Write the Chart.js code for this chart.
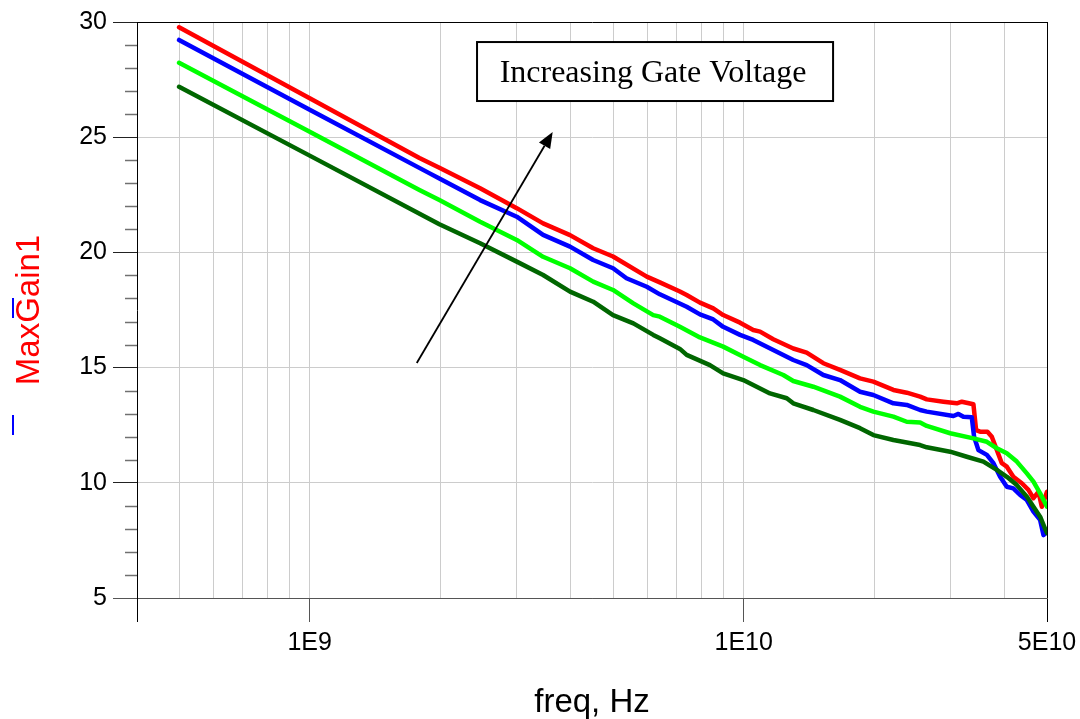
<!DOCTYPE html>
<html>
<head>
<meta charset="utf-8">
<script src="https://cdn.jsdelivr.net/npm/chart.js@4"></script>
<style>
html,body{margin:0;padding:0;background:#fff;}
#wrap{width:1080px;height:719px;position:relative;}
</style>
</head>
<body>
<div id="wrap"><canvas id="c" width="1080" height="719"></canvas></div>
<script>
// ---- data (frequency in Hz, MaxGain1 in dB) ----
const freqRed = [5e8,1e9,1.79e9,1.99e9,2.47e9,3.0e9,3.45e9,3.98e9,4.5e9,5.0e9,5.98e9,6.41e9,7.13e9,7.39e9,7.93e9,8.51e9,8.97e9,9.81e9,1.052e10,1.091e10,1.17e10,1.301e10,1.397e10,1.526e10,1.667e10,1.854e10,1.99e10,2.213e10,2.376e10,2.55e10,2.642e10,2.886e10,3.099e10,3.182e10,3.384e10,3.432e10,3.506e10,3.645e10,3.731e10,3.831e10,3.934e10,4.04e10,4.183e10,4.375e10,4.531e10,4.653e10,4.778e10,4.865e10,5e10];
const gainRed = [29.77,26.69,24.10,23.67,22.78,21.92,21.26,20.75,20.18,19.82,18.95,18.70,18.30,18.15,17.82,17.57,17.28,16.95,16.63,16.56,16.23,15.83,15.65,15.19,14.90,14.53,14.39,14.03,13.91,13.74,13.62,13.52,13.45,13.52,13.41,12.29,12.22,12.22,12.00,11.42,10.85,10.70,10.26,9.98,9.69,9.33,9.61,8.96,9.61];

const freqBlue = [5e8,1e9,1.89e9,1.99e9,2.47e9,3.0e9,3.45e9,3.98e9,4.5e9,5.0e9,5.37e9,5.98e9,6.41e9,7.39e9,7.93e9,8.51e9,8.97e9,9.81e9,1.052e10,1.17e10,1.301e10,1.397e10,1.526e10,1.667e10,1.854e10,1.99e10,2.213e10,2.376e10,2.55e10,2.642e10,3.044e10,3.125e10,3.209e10,3.355e10,3.396e10,3.475e10,3.634e10,3.763e10,3.899e10,4.04e10,4.183e10,4.336e10,4.493e10,4.653e10,4.821e10,4.907e10,5e10];
const gainBlue = [29.22,26.19,23.43,23.21,22.27,21.55,20.76,20.25,19.67,19.31,18.88,18.51,18.18,17.64,17.31,17.09,16.77,16.42,16.20,15.76,15.33,15.11,14.68,14.46,13.95,13.81,13.45,13.38,13.16,13.09,12.90,12.99,12.87,12.84,12.00,11.42,11.21,10.85,10.26,9.83,9.76,9.47,9.25,8.75,8.39,7.73,7.88];

const freqGreen = [5e8,1e9,1.79e9,1.99e9,2.47e9,3.0e9,3.45e9,3.98e9,4.5e9,5.0e9,5.57e9,6.19e9,6.41e9,7.13e9,7.93e9,8.97e9,9.98e9,1.091e10,1.234e10,1.301e10,1.447e10,1.667e10,1.854e10,1.99e10,2.213e10,2.376e10,2.55e10,2.642e10,2.991e10,3.384e10,3.634e10,3.831e10,4.04e10,4.26e10,4.493e10,4.653e10,4.821e10,5e10];
const gainGreen = [28.23,25.24,22.71,22.27,21.33,20.54,19.81,19.31,18.73,18.37,17.79,17.28,17.21,16.77,16.31,15.91,15.47,15.11,14.68,14.42,14.17,13.74,13.30,13.09,12.87,12.65,12.62,12.47,12.15,11.93,11.78,11.50,11.28,10.92,10.41,10.05,9.54,8.96];

const freqDark = [5e8,1e9,1.99e9,2.47e9,3.0e9,3.45e9,3.98e9,4.5e9,5.0e9,5.57e9,6.19e9,6.41e9,7.13e9,7.39e9,8.36e9,8.97e9,9.98e9,1.15e10,1.257e10,1.301e10,1.447e10,1.667e10,1.854e10,1.99e10,2.213e10,2.55e10,2.642e10,2.991e10,3.267e10,3.568e10,3.831e10,4.04e10,4.26e10,4.493e10,4.653e10,4.821e10,5e10];
const gainDark = [27.19,24.20,21.22,20.40,19.60,19.02,18.30,17.86,17.28,16.92,16.42,16.27,15.81,15.55,15.11,14.75,14.46,13.88,13.67,13.45,13.16,12.73,12.37,12.07,11.86,11.64,11.54,11.35,11.13,10.92,10.56,10.26,9.90,9.40,8.96,8.53,7.81];

const xGridValues = [4e8,5e8,6e8,7e8,8e8,9e8,1e9,2e9,3e9,4e9,5e9,6e9,7e9,8e9,9e9,1e10,2e10,3e10,4e10,5e10];
const xTickLabels = {1e9:'1E9', 1e10:'1E10', 5e10:'5E10'};
const yMajorTicks = [5,10,15,20,25,30];
const yMinorTicks = [6,7,8,9,11,12,13,14,16,17,18,19,21,22,23,24,26,27,28,29];

const annotationText = 'Increasing Gate Voltage';
const annotationBox = [[2.43e9, 29.13],[1.607e10, 26.57]];
const arrowFromTo = [[1.765e9, 15.2],[3.63e9, 25.23]];

const pts = (f, g) => f.map((v, i) => ({x: v, y: g[i]}));

const decor = {
  id: 'decor',
  afterDraw(chart) {
    const {ctx, scales: {x, y}} = chart;
    const left = chart.chartArea.left;
    ctx.save();
    // minor y ticks
    ctx.strokeStyle = '#707070';
    ctx.lineWidth = 1.5;
    yMinorTicks.forEach(v => {
      const py = Math.round(y.getPixelForValue(v)) + 0.5;
      ctx.beginPath(); ctx.moveTo(left - 12, py); ctx.lineTo(left, py); ctx.stroke();
    });
    // blue dashes beside the y title
    ctx.strokeStyle = '#0000ff';
    ctx.lineWidth = 2;
    ctx.beginPath(); ctx.moveTo(13, 298); ctx.lineTo(13, 318); ctx.stroke();
    ctx.beginPath(); ctx.moveTo(13, 415); ctx.lineTo(13, 435); ctx.stroke();
    // arrow
    const ax0 = x.getPixelForValue(arrowFromTo[0][0]), ay0 = y.getPixelForValue(arrowFromTo[0][1]);
    const ax1 = x.getPixelForValue(arrowFromTo[1][0]), ay1 = y.getPixelForValue(arrowFromTo[1][1]);
    const ang = Math.atan2(ay1 - ay0, ax1 - ax0);
    const hl = 16, hw = 6.5;
    ctx.strokeStyle = '#000'; ctx.fillStyle = '#000'; ctx.lineWidth = 1.8;
    ctx.beginPath(); ctx.moveTo(ax0, ay0);
    ctx.lineTo(ax1 - hl * Math.cos(ang), ay1 - hl * Math.sin(ang)); ctx.stroke();
    ctx.beginPath();
    ctx.moveTo(ax1, ay1);
    ctx.lineTo(ax1 - hl * Math.cos(ang) + hw * Math.sin(ang), ay1 - hl * Math.sin(ang) - hw * Math.cos(ang));
    ctx.lineTo(ax1 - hl * Math.cos(ang) - hw * Math.sin(ang), ay1 - hl * Math.sin(ang) + hw * Math.cos(ang));
    ctx.closePath(); ctx.fill();
    // annotation box
    const bx0 = x.getPixelForValue(annotationBox[0][0]), by0 = y.getPixelForValue(annotationBox[0][1]);
    const bx1 = x.getPixelForValue(annotationBox[1][0]), by1 = y.getPixelForValue(annotationBox[1][1]);
    ctx.fillStyle = '#fff';
    ctx.fillRect(bx0, by0, bx1 - bx0, by1 - by0);
    ctx.lineWidth = 2; ctx.strokeStyle = '#000';
    ctx.strokeRect(bx0, by0, bx1 - bx0, by1 - by0);
    ctx.fillStyle = '#000';
    ctx.font = '32px "Liberation Serif", "Times New Roman", serif';
    ctx.textAlign = 'center'; ctx.textBaseline = 'alphabetic';
    ctx.fillText(annotationText, (bx0 + bx1) / 2 - 2, by0 + 40);
    ctx.restore();
  }
};

new Chart(document.getElementById('c'), {
  type: 'line',
  data: {
    datasets: [
      {label: 'Vg4', data: pts(freqDark, gainDark), borderColor: '#006600'},
      {label: 'Vg3', data: pts(freqGreen, gainGreen), borderColor: '#00ff00'},
      {label: 'Vg2', data: pts(freqBlue, gainBlue), borderColor: '#0000ff'},
      {label: 'Vg1', data: pts(freqRed, gainRed), borderColor: '#ff0000'}
    ]
  },
  options: {
    responsive: false,
    devicePixelRatio: 1,
    animation: false,
    elements: {
      point: {radius: 0},
      line: {borderWidth: 4.5, tension: 0, fill: false, borderJoinStyle: 'round', borderCapStyle: 'round'}
    },
    layout: {padding: {top: 22, right: 33, left: 0, bottom: 0}},
    plugins: {legend: {display: false}, tooltip: {enabled: false}},
    scales: {
      x: {
        type: 'logarithmic',
        min: 4e8, max: 5e10,
        afterBuildTicks: s => { s.ticks = xGridValues.map(v => ({value: v})); },
        afterFit: s => { s.height = 121; s.paddingLeft = 0; s.paddingRight = 0; },
        ticks: {
          autoSkip: false, maxRotation: 0, minRotation: 0,
          padding: 6,
          color: '#000',
          font: {family: '"Liberation Sans", Arial, sans-serif', size: 25},
          callback: v => xTickLabels[v] || ''
        },
        grid: {
          tickLength: 24,
          lineWidth: 1,
          color: ctx => {
            const v = ctx.tick && ctx.tick.value;
            if (v === 5e10) return '#000';
            if (v === 4e8) return 'rgba(0,0,0,0)';
            return '#cccccc';
          },
          tickColor: ctx => {
            const v = ctx.tick && ctx.tick.value;
            if (v === 5e10 || v === 4e8) return '#000';
            if (xTickLabels[v]) return '#555';
            return 'rgba(0,0,0,0)';
          }
        },
        border: {display: true, color: '#555', width: 1},
        title: {
          display: true, text: 'freq, Hz', color: '#000',
          font: {family: '"Liberation Sans", Arial, sans-serif', size: 33, lineHeight: 1.0},
          padding: {top: 0, bottom: 0}
        }
      },
      y: {
        type: 'linear',
        min: 5, max: 30,
        afterBuildTicks: s => { s.ticks = yMajorTicks.map(v => ({value: v})); },
        afterFit: s => { s.width = 137; s.paddingTop = 0; s.paddingBottom = 0; },
        ticks: {
          padding: 6, color: '#000',
          font: {family: '"Liberation Sans", Arial, sans-serif', size: 25}
        },
        grid: {
          tickLength: 24,
          lineWidth: 1,
          color: ctx => {
            const v = ctx.tick && ctx.tick.value;
            if (v === 30) return '#000';
            if (v === 5) return '#555';
            return '#cccccc';
          },
          tickColor: ctx => {
            const v = ctx.tick && ctx.tick.value;
            return v === 5 ? '#555' : '#222';
          }
        },
        border: {display: true, color: '#000', width: 1},
        title: {
          display: true, text: 'MaxGain1', color: '#ff0000',
          font: {family: '"Liberation Sans", Arial, sans-serif', size: 33},
          padding: {top: 10, bottom: 0}
        }
      }
    }
  },
  plugins: [decor]
});
</script>
</body>
</html>
